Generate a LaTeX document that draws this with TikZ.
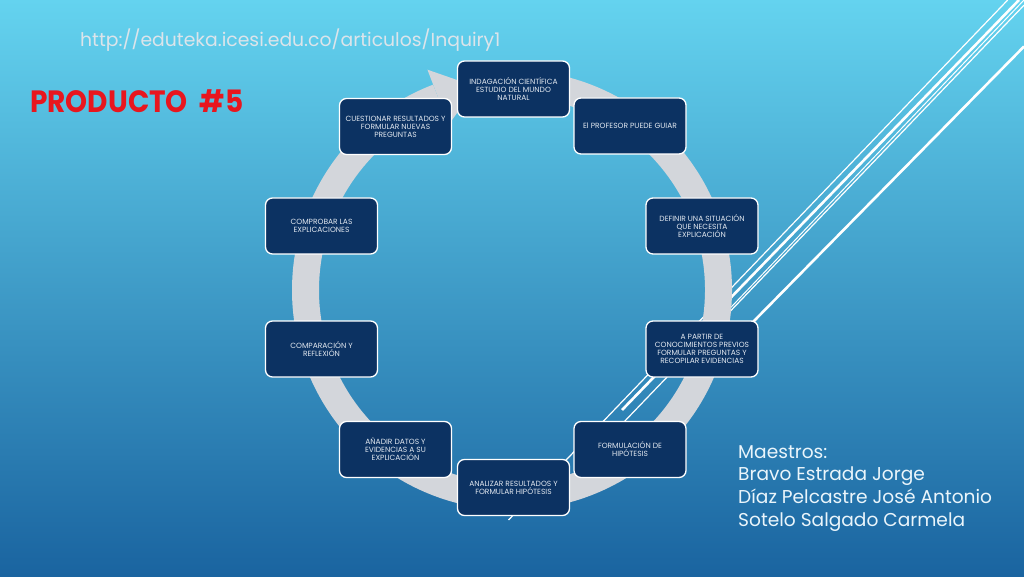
\documentclass[tikz,border=0pt]{standalone}
\usepackage{fontspec}
\setmainfont{Poppins}
\definecolor{bgtop}{HTML}{64D3EF}
\definecolor{bgmid}{HTML}{40A2D2}
\definecolor{bgbot}{HTML}{1A64A0}
\definecolor{ringgray}{HTML}{D3D6DB}
\definecolor{boxnavy}{HTML}{0C3262}
\definecolor{boxtext}{HTML}{E2E8F0}
\definecolor{titlered}{HTML}{E8161E}
\definecolor{urlgray}{HTML}{DCE4EA}
\definecolor{nametext}{HTML}{EAF5FB}
\begin{document}
\begin{tikzpicture}[x=1pt,y=1pt,
  stagebox/.style={draw=white, line width=1.3pt, fill=boxnavy, rounded corners=7pt,
    minimum width=112pt, minimum height=56pt, inner sep=0pt, align=center,
    text=boxtext, font=\fontsize{7.5}{8}\selectfont},
  thinline/.style={draw=white, line width=1.2pt},
  thickline/.style={draw=white, line width=2.6pt},
  teacher/.style={anchor=base west, text=nametext, font=\fontsize{18.6}{22}\selectfont, inner sep=0pt}
]
\useasboundingbox (0,0) rectangle (1024,576);
\shade[top color=bgtop, middle color=bgmid, bottom color=bgbot] (0,0) rectangle (1024,576);

% decorative diagonal lines
\coordinate (la1) at (1007.7,576); \coordinate (la2) at (508.5,56);
\coordinate (lb1) at (1019,576);   \coordinate (lb2) at (622,166);
\coordinate (lc1) at (1024,576);   \coordinate (lc2) at (716,253);
\coordinate (ld1) at (1024,570.8); \coordinate (ld2) at (622,152);
\coordinate (le1) at (1024,529.5); \coordinate (le2) at (751,252);
\draw[thinline] (la1) -- (la2);
\draw[thickline] (lb1) -- (lb2);
\draw[thinline, line width=1pt] (lc1) -- (lc2);
\draw[thinline] (ld1) -- (ld2);
\draw[thickline] (le1) -- (le2);

% circular arrow
\coordinate (C) at (512,286);
\draw[ringgray, line width=27pt] ([shift={(C)}]85:206.5) arc[start angle=85, end angle=-249, radius=206.5];
\fill[ringgray] ([shift={(C)}]111:236) -- ([shift={(C)}]100:206.5) -- ([shift={(C)}]111:177) -- cycle;

% stages
\node[stagebox] (b1) at (513.5,487) {INDAGACIÓN CIENTÍFICA\\ESTUDIO DEL MUNDO\\NATURAL};
\node[stagebox] (b2) at (395.5,449.5) {CUESTIONAR RESULTADOS Y\\FORMULAR NUEVAS\\PREGUNTAS};
\node[stagebox] (b3) at (630,450) {El PROFESOR PUEDE GUIAR};
\node[stagebox] (b4) at (702,350) {DEFINIR UNA SITUACIÓN\\QUE NECESITA\\EXPLICACIÓN};
\node[stagebox] (b5) at (321.5,350) {COMPROBAR LAS\\EXPLICACIONES};
\node[stagebox] (b6) at (702,227) {A PARTIR DE\\CONOCIMIENTOS PREVIOS\\FORMULAR PREGUNTAS Y\\RECOPILAR EVIDENCIAS};
\node[stagebox] (b7) at (321.5,227) {COMPARACIÓN Y\\REFLEXIÓN};
\node[stagebox] (b8) at (630,126.5) {FORMULACIÓN DE\\HIPÓTESIS};
\node[stagebox] (b9) at (395.5,126.5) {AÑADIR DATOS Y\\EVIDENCIAS A SU\\EXPLICACIÓN};
\node[stagebox] (b10) at (513.5,88.5) {ANALIZAR RESULTADOS Y\\FORMULAR HIPÓTESIS};

% texts
\node[anchor=base west, inner sep=0pt, text=urlgray, font=\fontsize{18.8}{20}\selectfont] (url) at (80,529) {http://eduteka.icesi.edu.co/articulos/Inquiry1};
\node[anchor=base west, inner sep=0pt, text=titlered, font=\fontsize{28}{28}\selectfont\bfseries] (title) at (30,463) {\scalebox{1}[1.1]{PRODUCTO~~\#5}};
\node[teacher] (t0) at (738,118) {Maestros:};
\node[teacher] (t1) at (738,95.2) {Bravo Estrada Jorge};
\node[teacher] (t2) at (738,72.4) {Díaz Pelcastre José Antonio};
\node[teacher] (t3) at (738,49.6) {Sotelo Salgado Carmela};
\end{tikzpicture}
\end{document}
